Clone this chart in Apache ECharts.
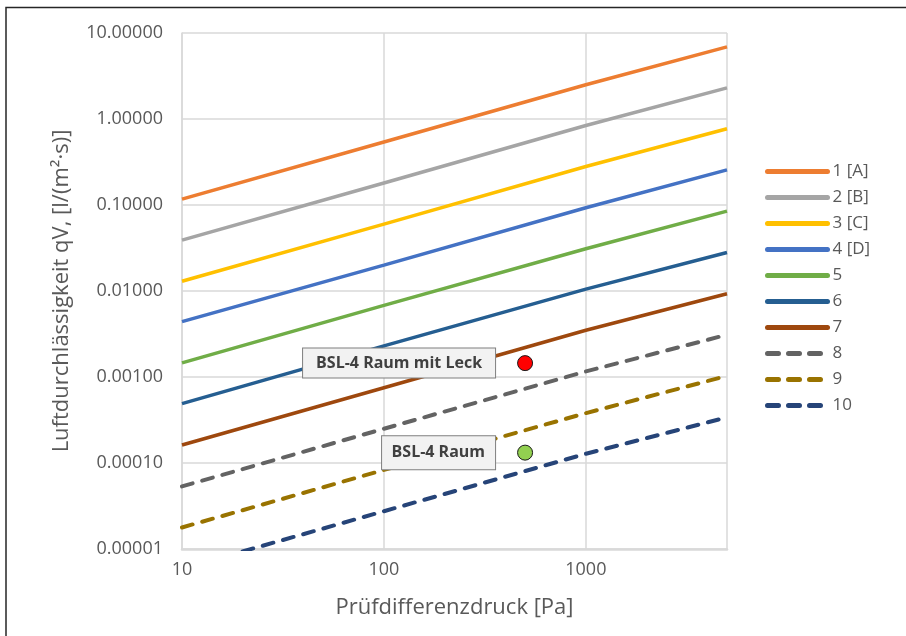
<!DOCTYPE html>
<html>
<head>
<meta charset="UTF-8">
<title>Luftdurchlässigkeit</title>
<script src="https://cdn.jsdelivr.net/npm/echarts@6/dist/echarts.min.js"></script>
<style>
  html, body { margin: 0; padding: 0; background: #fff; }
  #main { width: 906px; height: 636px; }
</style>
</head>
<body>
<div id="main"></div>
<script type="text/javascript">
// Prüfdruck [Pa]
var druck = [10, 100, 1000, 5000];

var klassen = ['1 [A]', '2 [B]', '3 [C]', '4 [D]', '5', '6', '7', '8', '9', '10'];
var k1  = [0.117, 0.54, 2.5, 6.9];
var k2  = [0.039, 0.18, 0.84, 2.3];
var k3  = [0.013, 0.06, 0.28, 0.77];
var k4  = [0.0044, 0.020, 0.093, 0.256];
var k5  = [0.00146, 0.0068, 0.031, 0.085];
var k6  = [0.00049, 0.0023, 0.0105, 0.028];
var k7  = [0.000162, 0.00075, 0.0035, 0.0093];
var k8  = [0.0000535, 0.00025, 0.00116, 0.0031];
var k9  = [0.0000178, 0.000083, 0.00038, 0.00103];
var k10 = [0.0000059, 0.0000275, 0.000128, 0.00034];
var farben = ['#ED7D31', '#A5A5A5', '#FFC000', '#4472C4', '#70AD47',
              '#255E91', '#9E480E', '#636363', '#997300', '#264478'];

// Messpunkte
var punktMitLeck = [500, 0.00145];
var punktRaum = [500, 0.000132];

var myChart = echarts.init(document.getElementById('main'));
var schrift = 'Open Sans';
var alleWerte = [k1, k2, k3, k4, k5, k6, k7, k8, k9, k10];

var series = [];
for (var i = 0; i < alleWerte.length; i++) {
  var punkte = [];
  for (var j = 0; j < druck.length; j++) {
    punkte.push([druck[j], alleWerte[i][j]]);
  }
  var gestrichelt = i >= 7;
  series.push({
    name: klassen[i],
    type: 'line',
    data: punkte,
    symbol: 'none',
    clip: true,
    color: farben[i],
    lineStyle: {
      width: gestrichelt ? 4 : 3.5,
      color: farben[i],
      type: gestrichelt ? [11, 10] : 'solid',
      cap: gestrichelt ? 'round' : 'butt'
    }
  });
}

// Messpunkt mit Beschriftungskasten links daneben
function punktSerie(name, wert, farbe, text, breite, pad) {
  return {
    name: name,
    type: 'scatter',
    data: [wert],
    z: 10,
    symbolSize: 15,
    itemStyle: { color: farbe, borderColor: '#1a1a1a', borderWidth: 1, opacity: 1 },
    label: {
      show: true,
      position: 'left',
      distance: 22,
      formatter: text,
      fontFamily: schrift,
      fontWeight: 'bold',
      fontSize: 16,
      lineHeight: 19,
      width: breite,
      align: 'right',
      color: '#404040',
      backgroundColor: '#F2F2F2',
      borderColor: '#7F7F7F',
      borderWidth: 1,
      padding: pad
    }
  };
}
series.push(punktSerie('mitLeck', punktMitLeck, '#FF0000', 'BSL-4 Raum mit Leck', 171, [5, 13, 5, 8]));
series.push(punktSerie('raum', punktRaum, '#92D050', 'BSL-4 Raum', 93, [7, 10, 7, 10]));

var option = {
  animation: false,
  backgroundColor: '#fff',
  textStyle: { fontFamily: schrift },
  graphic: [{
    type: 'rect',
    shape: { x: 6, y: 7.5, width: 1200, height: 1200 },
    style: { fill: 'none', stroke: '#262626', lineWidth: 1.5 },
    silent: true
  }],
  grid: { left: 182, right: 179, top: 33, bottom: 87 },
  legend: {
    data: klassen,
    orient: 'vertical',
    left: 760,
    top: 158,
    itemWidth: 60,
    itemHeight: 14,
    itemGap: 9,
    itemStyle: { opacity: 0 },
    lineStyle: { width: 5, cap: 'round' },
    textStyle: { fontFamily: schrift, fontSize: 17, color: '#595959' }
  },
  xAxis: {
    type: 'log',
    logBase: 10,
    min: 10,
    max: 5000,
    name: 'Prüfdifferenzdruck [Pa]',
    nameLocation: 'middle',
    nameGap: 48,
    nameTextStyle: { fontFamily: schrift, fontSize: 22, color: '#595959' },
    axisLine: { show: true, lineStyle: { color: '#D9D9D9', width: 2.5 } },
    axisTick: { show: false },
    axisLabel: {
      fontFamily: schrift, fontSize: 18, color: '#595959', margin: 12, showMaxLabel: false,
      formatter: function (v) { return String(Math.round(v)); }
    },
    splitLine: { show: true, lineStyle: { color: '#D9D9D9', width: 1.5 } },
    minorTick: { show: false },
    minorSplitLine: { show: false }
  },
  yAxis: {
    type: 'log',
    logBase: 10,
    min: 0.00001,
    max: 10,
    name: 'Luftdurchlässigkeit qV, [l/(m²·s)]',
    nameLocation: 'middle',
    nameGap: 109,
    nameTextStyle: { fontFamily: schrift, fontSize: 22, color: '#595959' },
    axisLine: { show: true, lineStyle: { color: '#D9D9D9', width: 1.5 } },
    axisTick: { show: false },
    axisLabel: {
      fontFamily: schrift, fontSize: 18, color: '#595959', margin: 19,
      formatter: function (v) { return Number(v).toFixed(5); }
    },
    splitLine: { show: true, lineStyle: { color: '#D9D9D9', width: 1.5 } }
  },
  series: series
};

myChart.setOption(option);
</script>
</body>
</html>
